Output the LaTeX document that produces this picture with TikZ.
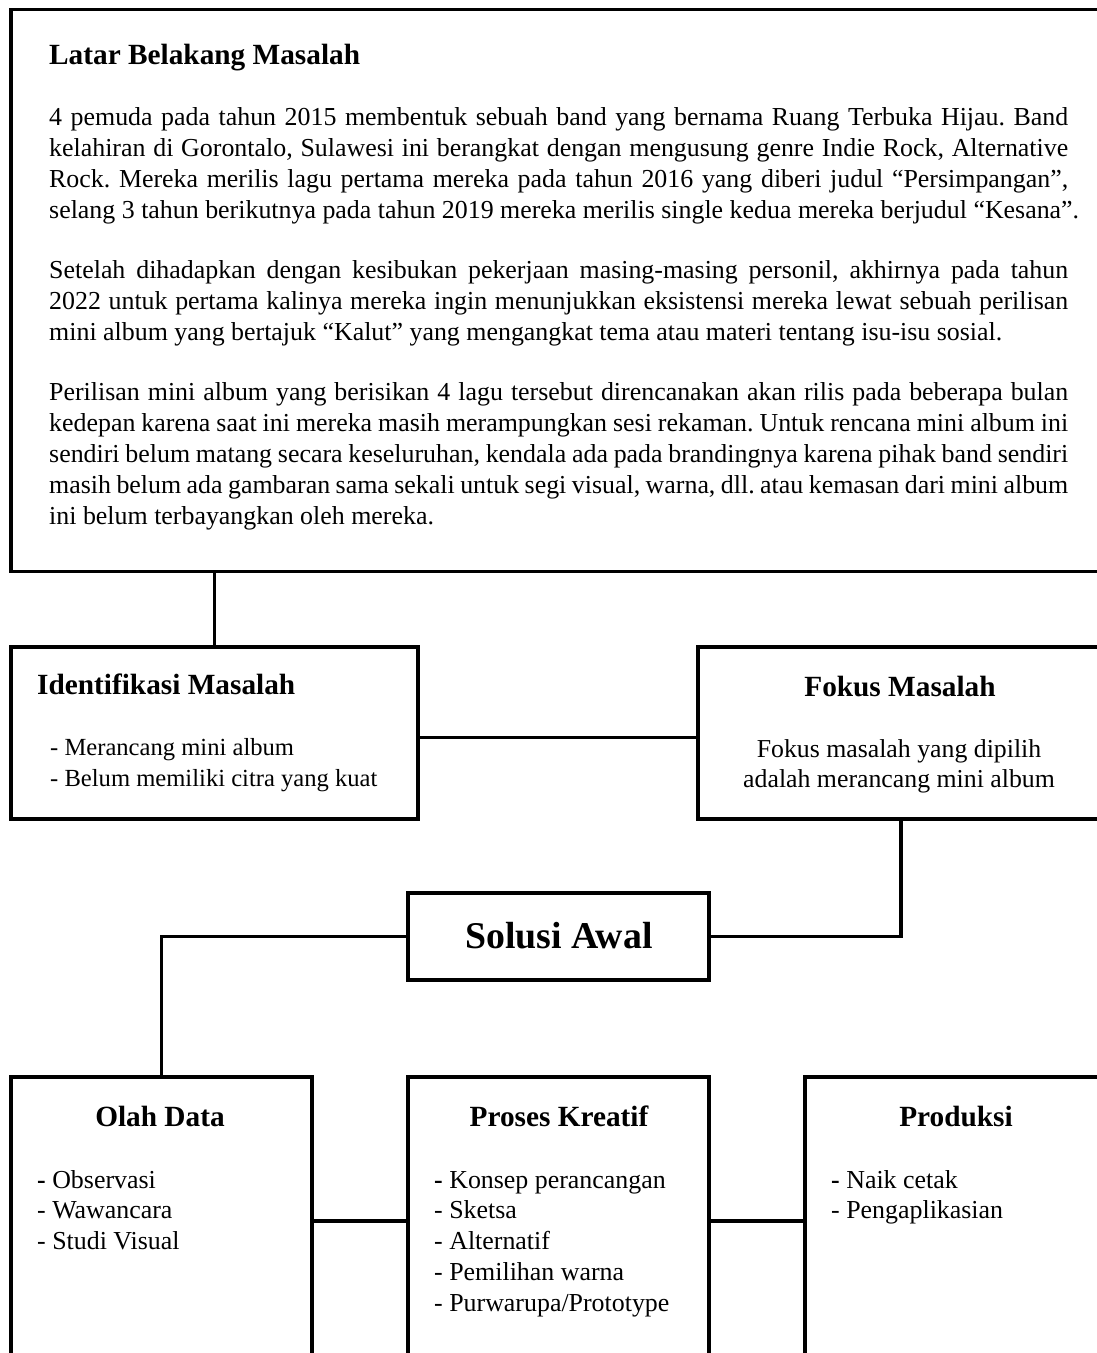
\documentclass[tikz,border=0pt]{standalone}
\usepackage{fontspec}
\setmainfont{Liberation Serif}
\frenchspacing
\newcommand{\jline}[1]{\hbox to 1019pt{#1}}
\tikzset{
  box/.style={draw, line width=3.1pt, rectangle, inner sep=0pt, outer sep=0pt, anchor=north west},
  conn/.style={line width=3.1pt},
  body/.style={inner sep=0pt, anchor=base west, font=\fontsize{25.9}{31}\selectfont},
  bodys/.style={inner sep=0pt, anchor=base west, font=\fontsize{24.6}{31}\selectfont},
  bodyc/.style={inner sep=0pt, anchor=base, font=\fontsize{25.8}{31}\selectfont},
  ttl/.style={inner sep=0pt, anchor=base west, font=\fontsize{29.3}{35}\selectfont\bfseries},
  ttlc/.style={inner sep=0pt, anchor=base, font=\fontsize{29.3}{35}\selectfont\bfseries},
  big/.style={inner sep=0pt, anchor=base, font=\fontsize{37.8}{44}\selectfont\bfseries},
}
\begin{document}
\begin{tikzpicture}[x=1pt,y=-1pt]
\useasboundingbox (0,0) rectangle (1097,1353);
\clip (0,0) rectangle (1097,1353);

% boxes
\node[box, minimum width=1100pt, minimum height=562pt] (latar) at (11,9.5) {};
\node[box, minimum width=407pt, minimum height=172pt] (idm) at (11,647) {};
\node[box, minimum width=406pt, minimum height=172pt] (fokus) at (698,647) {};
\node[box, minimum width=301pt, minimum height=87pt] (solusi) at (408,893) {};
\node[box, minimum width=301pt, minimum height=288pt] (olah) at (11,1077) {};
\node[box, minimum width=301pt, minimum height=288pt] (proses) at (408,1077) {};
\node[box, minimum width=301pt, minimum height=288pt] (prod) at (805,1077) {};

% connectors
\draw[conn] (latar.south -| idm.north) -- (idm.north);
\draw[conn] ([yshift=-4.5pt]idm.east) -- ([yshift=-4.5pt]fokus.west);
\draw[conn] (fokus.south) |- (solusi.east);
\draw[conn] (solusi.west) -| (olah.north);
\draw[conn] (olah.east) -- (proses.west);
\draw[conn] (proses.east) -- (prod.west);

% Latar Belakang
\node[ttl] (latarT) at (49,64) {Latar Belakang Masalah};
\node[body] (p1a) at (49,125) {\jline{4 pemuda pada tahun 2015 membentuk sebuah band yang bernama Ruang Terbuka Hijau. Band}};
\node[body] (p1b) at (49,156) {\jline{kelahiran di Gorontalo, Sulawesi ini berangkat dengan mengusung genre Indie Rock, Alternative}};
\node[body] (p1c) at (49,187) {\jline{Rock. Mereka merilis lagu pertama mereka pada tahun 2016 yang diberi judul “Persimpangan”,}};
\node[body] (p1d) at (49,218) {selang 3 tahun berikutnya pada tahun 2019 mereka merilis single kedua mereka berjudul “Kesana”.};
\node[body] (p2a) at (49,278) {\jline{Setelah dihadapkan dengan kesibukan pekerjaan masing-masing personil, akhirnya pada tahun}};
\node[body] (p2b) at (49,309) {\jline{2022 untuk pertama kalinya mereka ingin menunjukkan eksistensi mereka lewat sebuah perilisan}};
\node[body] (p2c) at (49,340) {mini album yang bertajuk “Kalut” yang mengangkat tema atau materi tentang isu-isu sosial.};
\node[body] (p3a) at (49,400) {\jline{Perilisan mini album yang berisikan 4 lagu tersebut direncanakan akan rilis pada beberapa bulan}};
\node[body] (p3b) at (49,431) {\jline{kedepan karena saat ini mereka masih merampungkan sesi rekaman. Untuk rencana mini album ini}};
\node[body] (p3c) at (49,462) {\jline{sendiri belum matang secara keseluruhan, kendala ada pada brandingnya karena pihak band sendiri}};
\node[body] (p3d) at (49,493) {\jline{masih belum ada gambaran sama sekali untuk segi visual, warna, dll. atau kemasan dari mini album}};
\node[body] (p3e) at (49,524) {ini belum terbayangkan oleh mereka.};

% Identifikasi
\node[ttl] (idmT) at (37,694) {Identifikasi Masalah};
\node[bodys] (idm1) at (50,755) {- Merancang mini album};
\node[bodys] (idm2) at (50,786) {- Belum memiliki citra yang kuat};

% Fokus
\node[ttlc] (fokusT) at (900,696) {Fokus Masalah};
\node[bodyc] (fok1) at (899,757) {Fokus masalah yang dipilih};
\node[bodyc] (fok2) at (899,787) {adalah merancang mini album};

% Solusi
\node[big] (solT) at (559,948) {Solusi Awal};

% Olah Data
\node[ttlc] (olahT) at (160,1126) {Olah Data};
\node[body] (o1) at (37,1188) {\textbf{-} Observasi};
\node[body] (o2) at (37,1218) {- Wawancara};
\node[body] (o3) at (37,1249) {- Studi Visual};

% Proses Kreatif
\node[ttlc] (prosT) at (559,1126) {Proses Kreatif};
\node[body] (k1) at (434,1188) {\textbf{-} Konsep perancangan};
\node[body] (k2) at (434,1218) {- Sketsa};
\node[body] (k3) at (434,1249) {- Alternatif};
\node[body] (k4) at (434,1280) {- Pemilihan warna};
\node[body] (k5) at (434,1311) {- Purwarupa/Prototype};

% Produksi
\node[ttlc] (prodT) at (956,1126) {Produksi};
\node[body] (r1) at (831,1188) {\textbf{-} Naik cetak};
\node[body] (r2) at (831,1218) {- Pengaplikasian};
\end{tikzpicture}
\end{document}
